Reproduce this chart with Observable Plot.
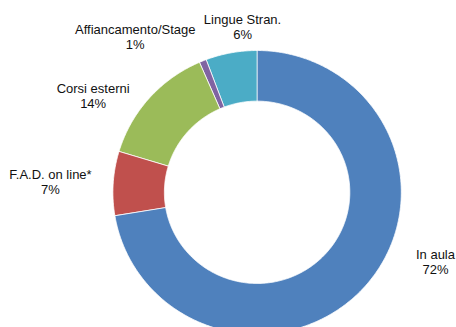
<!DOCTYPE html>
<html>
<head>
<meta charset="utf-8">
<script src="https://cdn.jsdelivr.net/npm/d3@7"></script>
<script src="https://cdn.jsdelivr.net/npm/@observablehq/plot@0.6"></script>
<style>
  html, body { margin: 0; padding: 0; background: #fff; }
  #chart { width: 456px; height: 327px; overflow: hidden; }
</style>
</head>
<body>
<div id="chart"></div>
<script>
// ---- data ----
const categories = ["In aula", "F.A.D. on line*", "Corsi esterni", "Affiancamento/Stage", "Lingue Stran."];
const values = [72.4, 7.3, 13.8, 0.8, 5.7];           // percent, clockwise from 12 o'clock
const pctLabels = ["72%", "7%", "14%", "1%", "6%"];

// ---- style / layout (not data) ----
const colors = ["#4F81BD", "#C0504D", "#9BBB59", "#8064A2", "#4BACC6"];
const innerRatio = 0.643;
// label anchors in chart units (outer radius = 1)
const labelX = [1.237, -1.433, -1.137, -0.845, -0.101];
const labelY = [-0.492, 0.073, 0.679, 1.095, 1.166];

// build ring-slice polygons from the values
const total = d3.sum(values);
const rows = [];
let acc = 0;
values.forEach((v, i) => {
  const a0 = acc / total * 2 * Math.PI;
  acc += v;
  const a1 = acc / total * 2 * Math.PI;
  const n = Math.max(4, Math.ceil((a1 - a0) / 0.01));
  const pts = [];
  for (let k = 0; k <= n; k++) {
    const a = a0 + (a1 - a0) * k / n;
    pts.push([Math.sin(a), Math.cos(a)]);
  }
  for (let k = n; k >= 0; k--) {
    const a = a0 + (a1 - a0) * k / n;
    pts.push([innerRatio * Math.sin(a), innerRatio * Math.cos(a)]);
  }
  pts.forEach(([x, y]) => rows.push({cat: categories[i], x, y}));
});

const labels = categories.map((c, i) => ({
  text: c + "\n" + pctLabels[i], x: labelX[i], y: labelY[i]
}));

const cx = 256.6, cy = 191.8, rx = 144.2, ry = 141.8;

const chart = Plot.plot({
  width: 456,
  height: 327,
  margin: 0,
  style: {fontFamily: "'Liberation Sans', Arial, sans-serif", background: "#fff", color: "#000"},
  x: {domain: [-1, 1], range: [cx - rx, cx + rx], axis: null},
  y: {domain: [-1, 1], range: [cy + ry, cy - ry], axis: null},
  color: {domain: categories, range: colors},
  marks: [
    Plot.line(rows, {x: "x", y: "y", z: "cat", fill: "cat", stroke: "#fff", strokeWidth: 0.8, curve: "linear-closed"}),
    Plot.text(labels, {x: "x", y: "y", text: "text", fontSize: 13, lineHeight: 1.12, lineAnchor: "middle", textAnchor: "middle", fill: "#111"})
  ]
});
document.getElementById("chart").appendChild(chart);
</script>
</body>
</html>
